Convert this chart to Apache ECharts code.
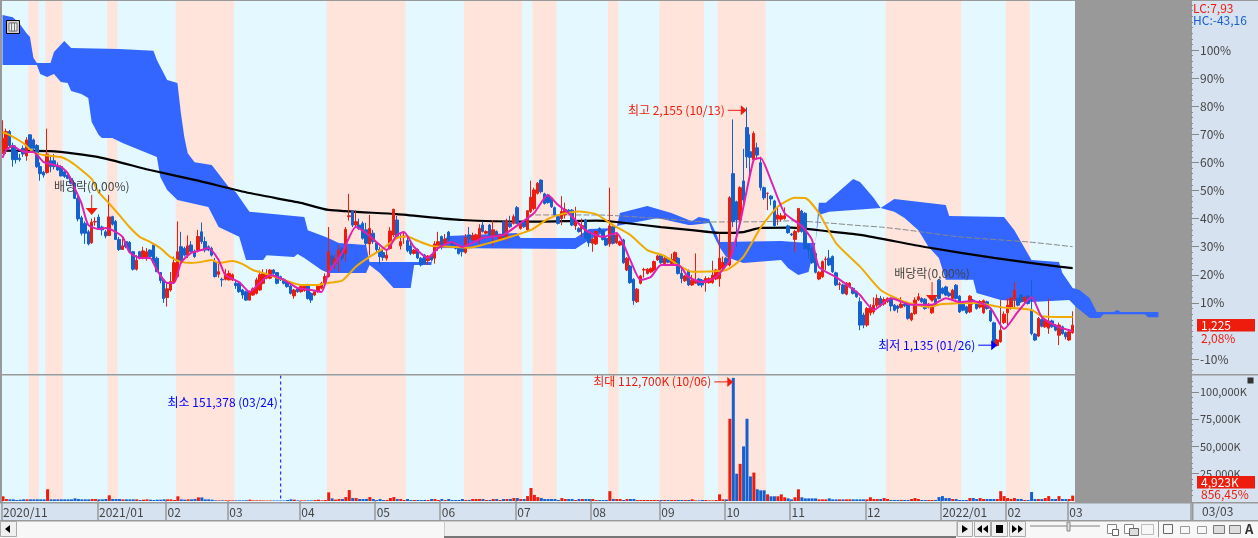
<!DOCTYPE html>
<html>
<head>
<meta charset="utf-8">
<style>
html, body { margin: 0; padding: 0; background: #fff; overflow: hidden; }
#chart { width: 1258px; height: 538px; }
</style>
<script src="https://cdn.jsdelivr.net/npm/echarts@6/dist/echarts.min.js"></script>
</head>
<body>
<div id="chart"></div>
<script>
var CATEGORY_COUNT = 347;

// month labels on the date axis and the candle index each month starts at
var monthIndex = [0, 28, 48, 66, 87, 109, 128, 150, 172, 192, 211, 230, 252, 274, 293, 311];
var monthLabels = ['2020/11', '2021/01', '02', '03', '04', '05', '06', '07', '08', '09', '10', '11', '12', '2022/01', '02', '03'];

// rise/fall period bands behind the chart, first and last candle index
var pinkBands = [[8, 10], [13, 17], [31, 33], [51, 67], [95, 117], [135, 151], [155, 161], [177, 179], [192, 204], [209, 222], [258, 279], [293, 299]];

// price in % against the 1,200 base: open, close, low, high
var candles = [
    [63.3,68.6,63,75],[64.5,71,63,72],[71,66,65,71.5],[66,61,58.5,67],[64,61,59.6,66],[61.5,61,60.3,63],[65,63,62,66],[62.3,68,60.6,69],[69.8,65,64.5,70],[68,65,64,68.5],
    [66,58.5,58,66.5],[58.5,56,53.5,60],[56.5,55.5,54.6,57],[56.4,63,56,72],[60.6,58.5,56.5,62],[60.6,58.5,57.5,63],[59,57.3,57,60],[58.5,55.2,55,59],[56.7,55,54.5,57],[55.5,54.3,54,56],
    [54.3,52.6,52.2,55],[52.6,47.2,47,53],[47.2,39.9,39,48],[40.3,34.8,34,41],[38.3,34.8,31,39],[35.3,31,30.5,36],[31.4,38.7,31,40],[38.8,39,37.5,40.5],[40.5,36.2,36,41.5],[37,36,34,37.5],
    [35.3,33.8,33,36],[34,40.6,33.8,48.4],[40.7,38,37.5,41],[39,32.6,32.5,39.5],[32.6,29,28.5,33.5],[29,30.3,29,33],[31.8,30,29.5,32],[31.5,28.2,28,32],[28.2,22,21.5,28.5],[22,25.2,21.5,27],
    [28.2,25.9,25.5,28.5],[25.9,28.5,25.5,30],[25.9,28.2,25,29.5],[28.8,26.5,26,29],[30.6,24.3,24,31],[25.9,21.1,21,26.5],[20.8,18,17,21],[18.2,11.6,10,18.5],[11.9,15,8.7,17],[14.6,17.6,14,21],
    [17.6,24.3,17,26.5],[19.4,28.2,19,39],[30,24.7,24,35.3],[29.4,27,26.5,30],[27,30.3,26,34],[30.6,28.2,27.8,32],[28.2,26.5,26,29],[28.8,33.6,28,36],[35.3,31.8,31,38.6],[31.8,28.8,28,33.5],
    [30,28.8,28.4,30.5],[29.4,27,26.5,30],[24.7,19.4,19,26],[20.2,21.1,19,24.7],[18.4,18.2,15.8,19],[18.4,20.3,18,22],[18.2,20.5,18,21.5],[18.2,20,17.8,20.5],[17,16.2,15,18],[17,14,13.6,17.4],
    [14.6,12.8,11.5,15],[14,11,10.7,14.4],[11,14,10.8,14.4],[12.8,15,12.5,15.5],[13.4,18.2,13,19],[14.6,20,14.3,21.5],[17,20.5,16.6,22],[18.8,20,18.4,22],[18.8,21.7,18.4,22],[21.7,20.5,20,22],
    [20.8,17,16.6,21],[19.3,18.2,17.8,19.7],[18.4,17,16.6,18.8],[17.6,15.8,15.4,18],[16,13.4,13,16.4],[12.5,14.6,11.5,15],[15,14,13.6,15.4],[14,15.8,13.6,16.2],[14.4,16.1,14,16.5],[16.4,11.6,11.2,16.8],
    [13.4,11,10,13.8],[12.8,14,12.4,14.4],[14,16,13.6,16.4],[15.2,17,14.8,17.5],[17,19.4,16.6,20.5],[19.4,28.2,19,37],[26.5,23.8,23,27.2],[23.8,25.5,22,27],[25.9,28.8,21,30.6],[29.4,26,25,29.8],
    [27.6,36.2,24.7,37],[40.7,41,39.3,48.8],[42.8,37.7,37,43],[37.7,38.9,37,43],[37.7,36.5,36,40],[38.3,33,32.5,39],[36,31.2,30.5,38.5],[31,36.5,27,41.3],[34.8,31.8,31,36],[31.4,29,28,32],
    [29,26.5,23.5,30],[27.9,26.2,25,29],[25.9,27,25,29],[29.4,35.6,29,37],[34.2,43.3,33.5,43.5],[39.5,33.6,33,41],[30.3,31.8,29,35],[33.5,33.8,31,35],[32.2,28.6,28,34],[30.3,27.6,27,32],
    [27.6,28.8,27.2,29.2],[29,26,25.6,29.4],[25.9,23.5,23,26.3],[27,24,23.6,27.4],[25,26.7,23.5,27],[27,25.3,24.9,27.4],[25.9,31,24,32],[29.8,31.8,28.5,35.3],[33.6,30.3,29,34],[30.6,32.7,30,34.5],
    [35.2,32.4,32,35.6],[31.8,30.6,30.2,32.2],[31.2,29.4,29,31.6],[30.6,27.6,27.2,31],[29.4,28.2,26.5,29.8],[28,33.2,27.5,34.5],[34.2,32.7,31,37],[32.4,33.9,32,35],[32.4,34.2,32,34.6],[33,36.5,31,38],
    [37.7,35.4,35,39],[34.8,35.4,34.4,35.8],[37.7,34.2,33.8,38.1],[33.6,36,30.3,39.5],[35.4,34.2,33.8,35.8],[32.4,34.2,32,34.6],[38.9,33,32.6,39.3],[33,39.1,32,40],[38.3,37.1,36.7,41],[38.3,40.7,37.9,41.5],
    [43.9,38.3,38,44.5],[36.5,38.5,36.1,38.9],[38.9,37.1,36.7,39.3],[36,42.8,35.5,43],[42.5,47.6,42,53.5],[43.6,50.2,43,51],[49,52.6,48.6,53],[53.7,49.6,49,54],[48.8,45.4,45,49.2],[48.4,45.7,45.3,48.8],
    [47.2,44.2,43.8,47.6],[43.9,41.3,40.9,44.3],[40.7,38.3,37.9,41.1],[40,42.5,37.7,48],[41.3,43.3,40,45.7],[43,42,41.6,43.4],[43,37.7,37.3,43.4],[37.4,38.9,36,44.2],[36.5,35.4,35,36.9],[36.5,37.5,33.5,40],
    [39.5,33,32.6,39.9],[34.8,31.4,30,35.2],[31.2,32.7,28.2,33],[31,35.4,30.6,35.8],[36.5,35.4,35,36.9],[35.7,32.6,32.2,36.1],[33,30.6,30.2,33.4],[31,37.4,30,51],[37.1,31.2,30.8,37.5],[31.4,34.2,31,34.6],
    [30.6,31.8,30.2,32.2],[32.4,24.3,23.9,32.8],[21.7,25.9,21.3,26.3],[23.1,17.2,16.8,23.5],[18.4,10.8,9.3,18.8],[10.4,14.9,10,15.3],[17,19.6,16.6,20],[21.7,21.9,19,22.5],[20.5,22,20.1,22.4],[21,22.2,20.6,22.6],
    [21.7,24.7,21.3,25.1],[25.3,26.7,24.9,27.1],[27,24.3,23.9,27.4],[24,25.9,23.6,26.3],[25.9,24.5,24.1,26.3],[24,25.5,23.6,27.5],[24,27.9,23.6,28.3],[25.9,20.5,20.1,26.3],[20.5,18.7,17,22],[17.9,19.6,17.5,20],
    [21.5,16.4,16,21.9],[16.4,18.1,16,20],[17,18,17,27.6],[18.5,16.4,16,18.9],[18.1,16.4,15.5,18.5],[17.2,18.7,14,19.5],[17.2,18.7,16.8,19.1],[17.2,19.9,16.8,25],[18.5,21.7,18.1,22.1],[18.7,25.9,15.8,34.7],
    [22.3,24.4,21.9,26.5],[25.9,23.5,23.1,26.3],[23.5,47.4,23,48],[56,38.9,37,75.3],[46,39.5,30,46.4],[39.5,51,39,51.5],[53.4,46.6,45,64.8],[72.4,62,58,79.6],[63.8,61.8,55.6,70],[61,70.3,60,71],
    [65.2,62.6,61,67],[59.9,51.1,50,62],[51,47.4,46.7,51.4],[49,49,43,49.3],[48,47,44.7,48.4],[46.3,37.5,37.1,46.7],[39.8,41.3,37.7,44.5],[39.8,41,39,42],[40,41,39.6,44],[37.4,35,34.6,37.8],
    [34.5,34.2,33.8,34.9],[32.6,35.4,28.2,36],[35.4,43.6,35,43.8],[42.7,35.4,35,43.1],[41.9,29.4,29,42.3],[30.6,28.8,25.8,31],[29.4,24.3,23.9,29.8],[27.6,20.9,20.5,28],[18.5,20.9,18.1,21.3],[19.3,24.7,18.9,25.1],
    [25.5,25.6,21.7,26.5],[25.9,23.5,23.1,28.8],[26.5,21.1,20.7,26.9],[20.7,16.4,16,21.1],[16.5,16.8,14.6,17.5],[16.4,13.4,13,16.8],[13.1,17,12.7,17.4],[15.8,17,15.4,17.4],[15.2,13.4,13,15.6],[14,12.2,11.8,14.4],
    [10.4,2.1,0.3,12],[5.7,2.1,1,6.5],[2.1,8,1.5,8.5],[6.5,8.4,5.5,9.5],[6.8,9.2,6,12],[9.2,11.6,8.5,13],[11.6,9.2,8.5,12.5],[9.6,11.2,9,12],[10.4,11.6,10,12],[11.6,8.9,7,12],
    [9.2,7.4,7,9.6],[8.9,8,6.5,9.3],[8.4,9.6,8,12],[9.6,9,8.5,10],[9.6,4.5,4,10],[4,6.2,3.5,6.6],[6.2,11,5.8,12],[11.1,12.2,10.7,13.5],[11.6,10.4,10,12],[11.3,8,7.6,11.7],
    [8.5,9.5,8,10],[6.5,8.9,6.1,9.3],[11.5,9.2,8.8,12],[18.1,11.6,11.2,18.5],[15.2,13.4,13,15.6],[15.7,12.8,12.4,16.1],[13.5,12.5,12,14],[11.6,14.5,11.2,15],[16.3,11.6,11.2,16.7],[12.4,6.8,6.4,12.8],
    [9.8,7.4,7,10.2],[8.6,6.5,6,9],[6.8,12.4,6.4,12.8],[11,9.8,9.4,11.4],[10,8,7.6,10.4],[8.5,10.5,8,11],[6.5,10.8,6.1,11.2],[10.4,8,7.6,10.8],[7.4,3.6,3.2,7.8],[2.9,-5,-5.3,3.3],
    [-5.2,-3.2,-5.4,-2.8],[-3.8,0.3,-4.2,11],[3,6,2.5,7],[6.5,9.2,2,11.6],[8,11.6,7.6,12],[11.6,14.5,8,17.5],[11.5,9.2,8.8,12],[12.8,10.4,10,13.2],[10.5,12,10,12.5],[12.4,9.8,9.4,12.8],
    [7.4,-0.9,-1.5,18.1],[-1.1,-3.2,-3.6,-0.7],[-1.8,4.5,-2.2,5],[4.1,1.7,1.3,4.5],[1.5,3.6,1.1,4],[1,3.6,-1,11.6],[3.6,1.5,1.1,4],[2.1,0.3,-0.1,2.5],[-1.5,2.1,-5,3],[1.5,-0.9,-1.3,1.9],
    [-0.6,-2,-3,-0.2],[-3.2,-0.3,-3.6,0.1],[-0.6,2.08,-1,7]
];

// volume in K, one per candle
var volumes = [
    4300,1800,1500,1500,900,1200,1500,1500,1500,1500,
    1500,1500,1500,10700,1500,1500,1500,1500,1500,1500,
    1500,2400,1800,1500,1500,1500,1800,1800,1500,1500,
    1800,5200,1800,1800,1800,1500,1500,1500,1500,1500,
    900,1200,1500,1200,900,1200,1200,1500,1500,1500,
    900,4300,1500,1200,1500,1500,1800,3300,3300,1500,
    1500,1200,600,600,600,600,600,600,600,600,
    600,700,1200,600,600,600,500,500,500,500,
    500,500,500,900,1500,1200,600,600,600,600,
    600,900,1200,600,900,7900,2400,1200,1800,1800,
    3600,10000,2700,2700,1800,1800,1800,3600,1800,900,
    1800,900,900,2700,3600,1800,1800,900,1800,900,
    900,900,900,900,900,1800,1800,900,1800,900,
    1800,900,900,900,1800,900,900,1800,1800,1800,
    1800,900,900,1800,1800,900,1800,1800,1800,2700,
    2700,1800,1800,4500,11900,5500,3600,2700,1800,1800,
    1800,1800,900,2700,1800,1800,1800,900,1800,1800,
    1800,1800,1800,900,900,900,900,9000,1800,1800,
    1800,900,1800,1800,1800,900,900,900,900,900,
    900,900,900,900,900,900,900,900,900,900,
    900,1500,600,600,900,900,600,600,900,6100,
    1500,1500,75300,112700,25000,34000,50000,75300,22500,26000,
    10700,9800,9800,6100,4300,4300,4300,6100,3400,2400,
    1500,3400,10700,3400,2400,2400,2400,2400,1500,1500,
    1500,2400,1500,1500,1500,1500,1500,1500,1500,1500,
    1500,1500,1500,3400,1800,1800,1800,2700,1800,900,
    900,900,900,900,900,1800,2700,1800,900,900,
    900,900,900,3600,4500,2700,2700,1800,1800,900,
    900,900,2700,2700,1800,2700,1800,1800,1800,1800,
    1800,9000,4500,2700,1800,2700,1800,1800,900,900,
    8200,1800,1800,1800,2700,4500,1800,1800,4500,1800,
    1800,1800,4923
];

var maLong = [[0,64.2],[14,64],[28,61.9],[43,57.3],[57,53.5],[72,49.1],[87,45.6],[95,43.1],[115,41.6],[134,39.5],[154,38.9],[173,39.3],[179,38.8],[192,37],[201,35.9],[209,34.9],[216,35.2],[221,36.7],[230,36.8],[240,35.6],[250,34.2],[269,29.9],[289,26],[308,22.9],[312,22.4]];
var maGrey = [[153,41.3],[173,41.3],[190,40.2],[201,39.1],[206,38.8],[221,38.9],[230,39.2],[240,38.5],[250,37.5],[256,37],[264,35.9],[279,33.5],[299,31.7],[312,30]];
var maOrange = [[0,70.8],[2,69.8],[6,66.9],[9,63.7],[12,62.6],[17,61.9],[20,60.1],[23,57.3],[26,54.1],[28,49.5],[31,45.5],[34,41.3],[37,37],[40,33.5],[43,31.7],[46,29.5],[49,26.3],[52,24.6],[55,24.2],[58,24.6],[61,25.3],[63,24.2],[67,24.9],[70,23.8],[73,21.7],[77,20.3],[82,18.2],[87,16.4],[92,16.4],[95,17.1],[99,17.9],[103,22.9],[107,26.4],[111,29.4],[115,33.1],[118,33.6],[121,32.1],[125,30.3],[130,30],[136,29.6],[141,31],[147,33.1],[154,35.9],[159,39.9],[163,41.6],[168,42.5],[173,41.6],[178,37.7],[183,34.2],[188,28.8],[193,26.7],[197,23.5],[201,21.1],[211,21.7],[216,26.4],[221,36.7],[226,44.2],[231,47.4],[234,47.3],[238,42],[243,31.3],[250,22.9],[256,14.6],[263,10.4],[270,8.6],[274,9.6],[284,10],[291,8.5],[300,7.5],[303,5.3],[308,5],[312,5]];
var maMagenta = [[0,61.6],[1,64.4],[3,65.8],[5,64.4],[7,63.7],[9,63.7],[12,60.1],[14,59.4],[17,58.4],[19,56.2],[21,50.9],[23,45.5],[25,37.7],[28,36.3],[30,36.7],[32,35.9],[35,33.5],[37,28.1],[40,26],[43,26],[45,21.7],[48,17.1],[50,17.1],[52,24.2],[55,27.8],[58,28.8],[60,29.5],[63,25.3],[65,19.9],[69,17.4],[72,13.9],[75,17.1],[78,19.9],[82,18.2],[86,15.3],[90,14.6],[93,13.9],[95,20.6],[99,27.8],[103,37],[106,34.9],[109,31.7],[112,28.8],[115,34.2],[117,35.2],[120,29.9],[124,26],[127,29.5],[131,31.7],[134,29.9],[140,33.1],[146,34.2],[151,38.4],[155,42],[159,48.4],[162,44.8],[165,42],[170,35.9],[175,33.5],[179,34.9],[183,25.3],[186,18.2],[189,19.2],[192,23.5],[197,23.5],[200,19.2],[204,17.4],[208,19.2],[212,25.3],[215,38.4],[219,60.9],[221,61.6],[224,53.7],[228,42],[233,37.4],[236,32.4],[238,22.8],[243,19.2],[249,13.9],[250,12.8],[254,7.5],[259,11.7],[265,9.3],[271,9.3],[275,11.7],[279,10.3],[283,10.7],[288,8.2],[292,0.7],[296,6.8],[300,12.1],[303,5],[308,1.4],[312,0]];

// ichimoku cloud edges, [candle index, %], it runs on past the last candle
var cloudUpper = [[0,112.5],[3,111.7],[5,109.3],[7,106],[8,104.6],[9,97.2],[10,95.4],[14,95.4],[15,99.3],[18,103.2],[20,100.7],[34,100.4],[44,99.7],[45,96.4],[48,89.3],[51,88.3],[52,77.6],[53,69],[54,63.3],[56,60.1],[61,59.1],[66,51.2],[68,49.5],[71,44.1],[72,42.4],[88,40.6],[89,35.9],[95,33.1],[98,31.3],[106,30.6],[107,24.6],[125,24.6],[126,29.9],[130,33.8],[150,34.9],[151,33.1],[167,33.1],[171,36.3],[179,36.7],[180,42],[188,44.5],[192,43.1],[195,42],[201,39.1],[203,40.6],[206,39.9],[208,34.9],[209,31.7],[227,32],[235,31.3],[237,31.3],[238,45.6],[240,45.6],[242,47.7],[248,54.1],[250,53],[254,47.3],[256,43.8],[260,47],[275,44.8],[276,40.9],[292,40.6],[295,35.9],[300,25.3],[308,24.6],[309,20.6],[312,15.3],[314,14.6],[317,11.7],[319,6.8],[324,6.8],[325,7.5],[326,6.8],[333,6.8],[337,6.8]];
var cloudLower = [[0,94.7],[10,94.7],[11,91.5],[13,90.4],[15,91.5],[17,88.6],[19,88.3],[20,85.4],[23,84.3],[25,82.9],[26,74.4],[28,69.8],[29,68.7],[32,68.7],[35,66.9],[45,61.9],[46,54.8],[48,50.2],[51,46.6],[60,44.1],[63,37],[69,33.5],[71,25.3],[76,25.3],[77,27],[85,26.3],[86,27.4],[88,26],[93,21.7],[95,20.6],[106,20.6],[107,23.5],[110,20.6],[114,15.3],[119,15.3],[120,23.5],[125,23.5],[126,29.5],[167,29.2],[171,32.4],[179,37.4],[191,40.2],[200,37.7],[201,37.7],[206,38.4],[207,34.9],[209,29.9],[211,26.3],[216,24.2],[227,25.3],[229,22.4],[232,19.9],[235,21],[237,31.3],[238,41.3],[241,42.4],[256,43.8],[260,42.4],[263,40.2],[267,35.9],[270,29.9],[273,26],[275,18.2],[283,18.2],[284,13.5],[291,11],[300,10.3],[311,11],[313,8.5],[317,4.6],[320,4.6],[321,6],[333,6],[334,4.9],[337,4.9]];

// axis tick labels
var priceTicks = [100, 90, 80, 70, 60, 50, 40, 30, 20, 10, -10];
var volumeTicks = [100000, 75000, 50000, 25000];

var UP = '#ee1c0c', DOWN = '#1560cf', PINK = '#ffe4dc', SKY = '#e4f8ff', GREY = '#999999', STRIP = '#d6e2f0', INK = '#444444';
var FONT = '"Noto Sans CJK KR", "Noto Sans", sans-serif';

// annotations hang off the candle they talk about
var priceNotes = [
    {idx: 217, val: 79.6, dy: 3, text: '최고 2,155 (10/13)', color: UP, kind: 'right'},
    {idx: 290, val: -5.4, dy: -1, text: '최저 1,135 (01/26)', color: '#0000ff', kind: 'right'},
    {idx: 26, val: 41.3, dy: 0, text: '배당락(0,00%)', color: UP, kind: 'down'},
    {idx: 271, val: 10.3, dy: 0, text: '배당락(0,00%)', color: UP, kind: 'down'}
];
var volumeNotes = [
    {idx: 213, val: 112700, dy: 4, text: '최대 112,700K (10/06)', color: UP, kind: 'right'},
    {idx: 81, val: 90000, dy: 0, text: '최소 151,378 (03/24)', color: '#0000ff', kind: 'rule'}
];

var categories = [];
for (var c = 0; c < CATEGORY_COUNT; c++) {
    var m = monthIndex.indexOf(c);
    categories.push(m >= 0 ? monthLabels[m] : '');
}

function minorTicks(from, to, step) {
    var out = [];
    for (var v = from; v <= to; v += step) out.push(v);
    return out;
}

function isMonth(index) {
    return monthIndex.indexOf(index) >= 0;
}

function renderBand(params, api) {
    var half = api.size([1, 0])[0] / 2;
    var x0 = api.coord([api.value(0), 0])[0] - half;
    var x1 = api.coord([api.value(1), 0])[0] + half;
    var box = params.coordSys;
    return {type: 'rect', shape: {x: x0, y: box.y, width: x1 - x0, height: box.height}, style: {fill: PINK}};
}

function renderCloud(params, api) {
    var points = [];
    cloudUpper.forEach(function (p) { points.push(api.coord(p)); });
    cloudLower.slice().reverse().forEach(function (p) { points.push(api.coord(p)); });
    return {type: 'polygon', shape: {points: points}, style: {fill: '#3366ff'}};
}

function noteRenderer(notes) {
    return function (params, api) {
        var note = notes[params.dataIndex];
        var p = api.coord([note.idx, note.val]);
        var x = p[0], y = p[1] + note.dy;
        var kids = [];
        if (note.kind == 'right') {
            kids.push({type: 'line', shape: {x1: x - 19, y1: y, x2: x - 4, y2: y}, style: {stroke: note.color, lineWidth: 1}});
            kids.push({type: 'polygon', shape: {points: [[x - 6, y - 5], [x, y], [x - 6, y + 5]]}, style: {fill: note.color}});
            kids.push({type: 'text', style: {x: x - 22, y: y, text: note.text, fill: note.color, font: '12px ' + FONT, align: 'right', verticalAlign: 'middle'}});
        } else if (note.kind == 'down') {
            kids.push({type: 'line', shape: {x1: x, y1: y - 20, x2: x, y2: y - 6}, style: {stroke: note.color, lineWidth: 1}});
            kids.push({type: 'polygon', shape: {points: [[x - 6, y - 7], [x + 6, y - 7], [x, y]]}, style: {fill: note.color}});
            kids.push({type: 'text', style: {x: x, y: y - 29, text: note.text, fill: INK, font: '12px ' + FONT, align: 'center', verticalAlign: 'middle'}});
        } else {
            var box = params.coordSys;
            kids.push({type: 'line', shape: {x1: x, y1: box.y, x2: x, y2: box.y + box.height}, style: {stroke: '#0000ff', lineWidth: 1, lineDash: [3, 3]}});
            kids.push({type: 'text', style: {x: x - 3, y: y, text: note.text, fill: note.color, font: '12px ' + FONT, align: 'right', verticalAlign: 'middle'}});
        }
        return {type: 'group', children: kids};
    };
}

function lineSeries(name, data, color, width, z, dash) {
    return {
        name: name, type: 'line', data: data, xAxisIndex: 0, yAxisIndex: 0, z: z,
        showSymbol: false, symbol: 'none', smooth: 0.2, silent: true,
        lineStyle: {color: color, width: width, type: dash || 'solid'}
    };
}

function box(x, y, w, h, fill, z, stroke) {
    return {type: 'rect', shape: {x: x, y: y, width: w, height: h}, style: {fill: fill, stroke: stroke || null, lineWidth: 1}, z: z === undefined ? -1 : z, silent: true};
}

function label(x, y, text, color, size, weight) {
    return {type: 'text', x: x, y: y, style: {text: text, fill: color, font: (weight || '') + ' ' + (size || 12) + 'px ' + FONT, verticalAlign: 'middle'}, z: 10, silent: true};
}

function tri(points, fill) {
    return {type: 'polygon', shape: {points: points}, style: {fill: fill || '#000'}, z: 11, silent: true};
}

function button(x, w) {
    return box(x + 0.5, 521.5, w, 15, '#f0f0f0', 10, '#aaaaaa');
}

var chrome = [
    box(0, 0, 1075, 502, SKY),
    box(1075, 0, 117, 502, GREY),
    box(1192, 0, 66, 520, STRIP),
    box(0, 502, 1192, 18, STRIP),
    box(0, 520, 1258, 18, '#f7f7f7'),
    box(0, 0, 1258, 1, GREY, 9),
    box(0, 0, 2, 502, GREY, 9),
    box(0, 374, 1258, 1.5, GREY, 9),
    box(0, 502, 1258, 1.5, GREY, 9),
    box(0, 520, 1258, 1.5, GREY, 9),
    box(1192, 502, 1.5, 18, GREY, 9),
    // table icon in the corner of the price pane
    box(6.5, 20.5, 13, 13, '#cccccc', 10, '#000000'),
    box(9, 23, 8, 8, '#eeeeee', 10, '#777777'),
    box(11.5, 23, 3, 8, '#eeeeee', 10, '#777777'),
    // side values
    label(1193, 8, 'LC:7,93', UP, 12),
    label(1193, 20, 'HC:-43,16', DOWN, 12),
    box(1197, 319, 58, 12.5, UP, 9),
    label(1201, 325, '1,225', '#ffffff', 12),
    label(1201, 338, '2,08%', UP, 12),
    box(1197, 476, 58, 12.5, UP, 9),
    label(1201, 482, '4,923K', '#ffffff', 12),
    label(1201, 494.5, '856,45%', UP, 12),
    label(1202, 511, '03/03', INK, 12),
    box(1247.5, 377.5, 6, 6, '#333333', 10),
    // scroll bar and player buttons
    button(0, 16),
    tri([[10, 525], [10, 533], [5, 529]]),
    box(444.5, 521.5, 512, 15, '#efefef', 10, '#cccccc'),
    box(444, 536, 512, 2, '#777777', 10),
    button(957, 15),
    tri([[962, 525], [962, 533], [968, 529]]),
    button(974, 16),
    tri([[982, 525], [982, 533], [977, 529]]),
    tri([[988, 525], [988, 533], [983, 529]]),
    button(991, 16),
    box(996, 525, 7, 8, '#000', 11),
    button(1009, 16),
    tri([[1012, 525], [1012, 533], [1017, 529]]),
    tri([[1018, 525], [1018, 533], [1023, 529]]),
    box(1030, 525, 70, 2, '#bbbbbb', 10),
    box(1067, 522, 3, 9, '#dddddd', 10, '#888888'),
    box(1107.5, 524.5, 9, 9, '#ffffff', 10, '#888888'),
    box(1112.5, 529.5, 6, 6, '#ffffff', 10, '#666666'),
    box(1124.5, 524.5, 9, 9, '#ffffff', 10, '#888888'),
    box(1129.5, 528.5, 9, 7, '#dddddd', 10, '#666666'),
    box(1141.5, 524.5, 12, 10, '#f7f7f7', 10, '#bbbbbb'),
    box(1158, 521, 1, 16, '#999999', 10),
    box(1163.5, 524.5, 9, 9, '#f7f7f7', 10, '#666666'),
    box(1180.5, 526.5, 9, 7, '#f7f7f7', 10, '#999999'),
    box(1197.5, 526.5, 9, 7, '#f7f7f7', 10, '#999999'),
    box(1213.5, 525.5, 11, 8, '#dddddd', 10, '#777777'),
    box(1229.5, 525.5, 11, 8, '#dddddd', 10, '#777777'),
    label(1245, 529, 'A', '#333333', 13, 'bold')
];

var chart = echarts.init(document.getElementById('chart'), null, {renderer: 'canvas'});

var option = {
    animation: false,
    backgroundColor: '#ffffff',
    graphic: {elements: chrome},
    grid: [
        {left: 0.8, width: 1190.2, top: 1, height: 373},
        {left: 0.8, width: 1190.2, top: 375.5, height: 125.5}
    ],
    xAxis: [
        {type: 'category', data: categories, gridIndex: 0, show: false},
        {
            type: 'category', data: categories, gridIndex: 1,
            axisLine: {show: false},
            axisTick: {show: true, interval: function (i) { return isMonth(i); }, length: 19, lineStyle: {color: GREY, width: 1.5}},
            axisLabel: {
                interval: function (i) { return isMonth(i); }, margin: 5, align: 'left',
                color: INK, fontFamily: FONT, fontSize: 12, hideOverlap: false
            }
        }
    ],
    yAxis: [
        {
            type: 'value', gridIndex: 0, position: 'right', min: -15.3, max: 117.44,
            splitLine: {show: false},
            axisLine: {show: true, lineStyle: {color: GREY, width: 1}},
            axisTick: {show: true, customValues: priceTicks, length: 8, lineStyle: {color: '#888888'}},
            axisLabel: {
                customValues: priceTicks, margin: 9, color: INK, fontFamily: FONT, fontSize: 12,
                formatter: function (v) { return v + '%'; }
            }
        },
        {
            type: 'value', gridIndex: 0, position: 'right', min: -15.3, max: 117.44,
            splitLine: {show: false}, axisLine: {show: false}, axisLabel: {show: false},
            axisTick: {show: true, customValues: minorTicks(-14, 116, 2), length: 2, lineStyle: {color: '#888888'}}
        },
        {
            type: 'value', gridIndex: 1, position: 'right', min: 0, max: 114900,
            splitLine: {show: false},
            axisLine: {show: true, lineStyle: {color: GREY, width: 1}},
            axisTick: {show: true, customValues: volumeTicks, length: 8, lineStyle: {color: '#888888'}},
            axisLabel: {
                customValues: volumeTicks, margin: 9, color: INK, fontFamily: FONT, fontSize: 11,
                formatter: function (v) { return v.toLocaleString('en-US') + 'K'; }
            }
        },
        {
            type: 'value', gridIndex: 1, position: 'right', min: 0, max: 114900,
            splitLine: {show: false}, axisLine: {show: false}, axisLabel: {show: false},
            axisTick: {show: true, customValues: minorTicks(5000, 110000, 5000), length: 2, lineStyle: {color: '#888888'}}
        }
    ],
    series: [
        {type: 'custom', name: 'bands', data: pinkBands, xAxisIndex: 0, yAxisIndex: 0, z: 1, silent: true, clip: true, renderItem: renderBand, encode: {x: [0, 1]}},
        {type: 'custom', name: 'bandsVol', data: pinkBands, xAxisIndex: 1, yAxisIndex: 2, z: 1, silent: true, clip: true, renderItem: renderBand, encode: {x: [0, 1]}},
        {type: 'custom', name: 'cloud', data: [[0, 0]], xAxisIndex: 0, yAxisIndex: 0, z: 2, silent: true, clip: true, renderItem: renderCloud},
        lineSeries('ma long', maLong, '#000000', 2.2, 3),
        lineSeries('ma grey', maGrey, '#888888', 1, 3, [6, 2]),
        {
            type: 'candlestick', name: 'price', data: candles, xAxisIndex: 0, yAxisIndex: 0, z: 4, silent: true,
            barWidth: 3,
            itemStyle: {color: UP, color0: DOWN, borderColor: UP, borderColor0: DOWN, borderWidth: 1}
        },
        lineSeries('ma orange', maOrange, '#f0aa00', 2, 5),
        lineSeries('ma magenta', maMagenta, '#e020b0', 2, 6),
        {
            type: 'bar', name: 'volume', xAxisIndex: 1, yAxisIndex: 2, z: 4, silent: true, barWidth: 3,
            data: volumes.map(function (v, i) {
                return {value: v, itemStyle: {color: candles[i][1] >= candles[i][0] ? UP : DOWN}};
            })
        },
        {type: 'custom', name: 'notes', data: priceNotes.map(function (n) { return [n.idx, n.val]; }), xAxisIndex: 0, yAxisIndex: 0, z: 7, silent: true, clip: false, renderItem: noteRenderer(priceNotes)},
        {type: 'custom', name: 'notesVol', data: volumeNotes.map(function (n) { return [n.idx, n.val]; }), xAxisIndex: 1, yAxisIndex: 2, z: 7, silent: true, clip: false, renderItem: noteRenderer(volumeNotes)}
    ]
};

chart.setOption(option);
</script>
</body>
</html>
